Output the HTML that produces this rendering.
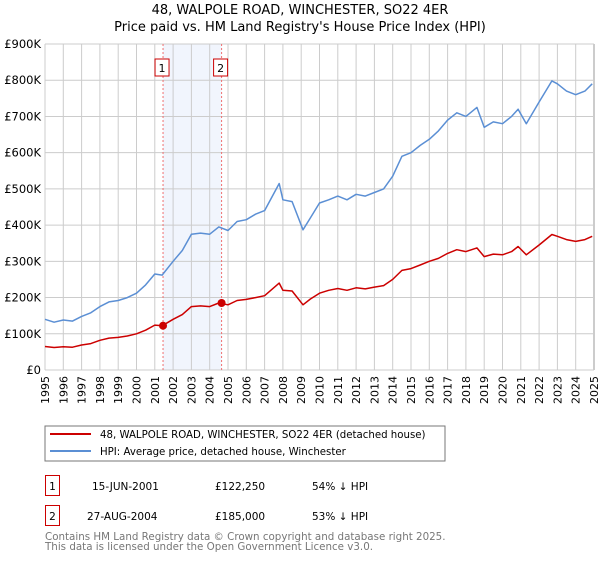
<!DOCTYPE html>
<html><head><meta charset="utf-8"><style>
body{margin:0;background:#fff;font-family:"DejaVu Sans","Liberation Sans",sans-serif}
svg text{font-family:"DejaVu Sans","Liberation Sans",sans-serif}
</style></head><body>
<svg id="chart" width="600" height="560" xmlns="http://www.w3.org/2000/svg">
<text x="300" y="14" text-anchor="middle" font-size="13" fill="#000">48, WALPOLE ROAD, WINCHESTER, SO22 4ER</text>
<text x="300" y="31" text-anchor="middle" font-size="13" fill="#000">Price paid vs. HM Land Registry's House Price Index (HPI)</text>
<g id="grid"></g>
<g id="marks"></g>
<g id="axes"></g>
<rect x="45" y="426" width="400" height="35" fill="none" stroke="#777"/>
<line x1="50" y1="434" x2="91" y2="434" stroke="#cc0000" stroke-width="2"/>
<text x="100" y="438" font-size="10.2">48, WALPOLE ROAD, WINCHESTER, SO22 4ER (detached house)</text>
<line x1="50" y1="451" x2="91" y2="451" stroke="#5b8fd4" stroke-width="2"/>
<text x="100" y="455" font-size="10.2">HPI: Average price, detached house, Winchester</text>
<g>
<rect x="45.5" y="475.5" width="14" height="20" fill="none" stroke="#cc0000"/>
<text x="52.5" y="490" font-size="10.5" text-anchor="middle">1</text>
<text x="92" y="490" font-size="10.5">15-JUN-2001</text>
<text x="215" y="490" font-size="10.5">£122,250</text>
<text x="312" y="490" font-size="10.5">54% ↓ HPI</text>
</g>
<g>
<rect x="45.5" y="505.5" width="14" height="20" fill="none" stroke="#cc0000"/>
<text x="52.5" y="520" font-size="10.5" text-anchor="middle">2</text>
<text x="87" y="520" font-size="10.5">27-AUG-2004</text>
<text x="215" y="520" font-size="10.5">£185,000</text>
<text x="312" y="520" font-size="10.5">53% ↓ HPI</text>
</g>
<text x="45" y="540" font-size="10.3" fill="#777">Contains HM Land Registry data © Crown copyright and database right 2025.</text>
<text x="45" y="550" font-size="10.3" fill="#777">This data is licensed under the Open Government Licence v3.0.</text>
</svg>
<script>
const years=[1995,1995.5,1996,1996.5,1997,1997.5,1998,1998.5,1999,1999.5,2000,2000.5,2001,2001.4,2002,2002.5,2003,2003.5,2004,2004.5,2005,2005.5,2006,2006.5,2007,2007.8,2008,2008.5,2009.1,2009.5,2010,2010.5,2011,2011.5,2012,2012.5,2013,2013.5,2014,2014.5,2015,2015.5,2016,2016.5,2017,2017.5,2018,2018.6,2019,2019.5,2020,2020.5,2020.85,2021.3,2022,2022.7,2023,2023.5,2024,2024.5,2024.9];
const hpiValues=[140,132,138,135,148,158,175,188,192,200,212,235,265,262,300,330,375,378,375,395,385,410,415,430,440,515,470,465,387,420,461,470,480,470,485,480,490,500,535,590,600,620,637,660,690,710,700,725,670,685,680,700,720,680,740,798,790,770,760,770,790];
const priceValues=[65,62,64,63,69,73,82,88,90,94,100,110,124,122,140,153,175,177,175,185,180,192,195,200,205,240,220,218,180,196,212,220,225,220,227,224,229,233,250,275,280,290,300,308,322,332,327,337,313,320,318,327,341,318,345,374,369,360,355,360,369];
const sales=[{label:"1",year:2001.45,price:122.25},{label:"2",year:2004.65,price:185}];
const yTicks=[0,100,200,300,400,500,600,700,800,900];
const yTickLabels=["£0","£100K","£200K","£300K","£400K","£500K","£600K","£700K","£800K","£900K"];
const NS="http://www.w3.org/2000/svg";
const X0=45,X1=594,Y0=370,Y1=44;
const x=y=>X0+(y-1995)/30*(X1-X0);
const yv=v=>Y0-v/900*(Y0-Y1);
function mk(tag,attrs,parent){const e=document.createElementNS(NS,tag);for(const k in attrs)e.setAttribute(k,attrs[k]);parent.appendChild(e);return e;}
const grid=document.getElementById('grid'),marks=document.getElementById('marks'),axes=document.getElementById('axes');
const sh=mk('rect',{x:x(sales[0].year),y:Y1,width:x(sales[1].year)-x(sales[0].year),height:Y0-Y1,fill:'#f1f5fd'},grid);


for(let yr=1995;yr<=2025;yr++){
  const l=mk('line',{x1:x(yr),x2:x(yr),y1:Y1,y2:Y0,stroke:yr===2025?'#999':'#cccccc','stroke-width':1},grid);
  
  
  const t=mk('text',{x:0,y:0,'font-size':11,'text-anchor':'end',transform:`translate(${x(yr)+4},376) rotate(-90)`},axes);
  t.textContent=yr;
  
  
}
yTicks.forEach((v,i)=>{
  const l=mk('line',{x1:X0,x2:X1,y1:yv(v),y2:yv(v),stroke:'#cccccc','stroke-width':1},grid);
  
  
  const t=mk('text',{x:41,y:yv(v)+4,'font-size':11.5,'text-anchor':'end'},axes);
  t.textContent=yTickLabels[i];
  
  
});
sales.forEach(s=>{
  const l=mk('line',{x1:x(s.year),x2:x(s.year),y1:Y1,y2:Y0,stroke:'#f07070','stroke-width':1,'stroke-dasharray':'2,2'},marks);
  
  
});
function path(vals,color,name){
  const d=vals.map((v,i)=>(i?'L':'M')+x(years[i]).toFixed(1)+','+yv(v).toFixed(1)).join('');
  const p=mk('path',{d,fill:'none',stroke:color,'stroke-width':1.5,'stroke-linejoin':'round'},marks);
  
  
}
path(hpiValues,'#5b8fd4','hpi-line');
path(priceValues,'#cc0000','property-price-line');
sales.forEach(s=>{
  const c=mk('circle',{cx:x(s.year),cy:yv(s.price),r:4,fill:'#cc0000'},marks);
  
  
  const bx=x(s.year)-8;
  const r=mk('rect',{x:bx,y:59,width:14,height:17,fill:'#fff',stroke:'#cc0000'},marks);
  
  
  const t=mk('text',{x:bx+7,y:72,'font-size':11,'text-anchor':'middle'},marks);
  t.textContent=s.label;
  
  
});
</script>
</body></html>
